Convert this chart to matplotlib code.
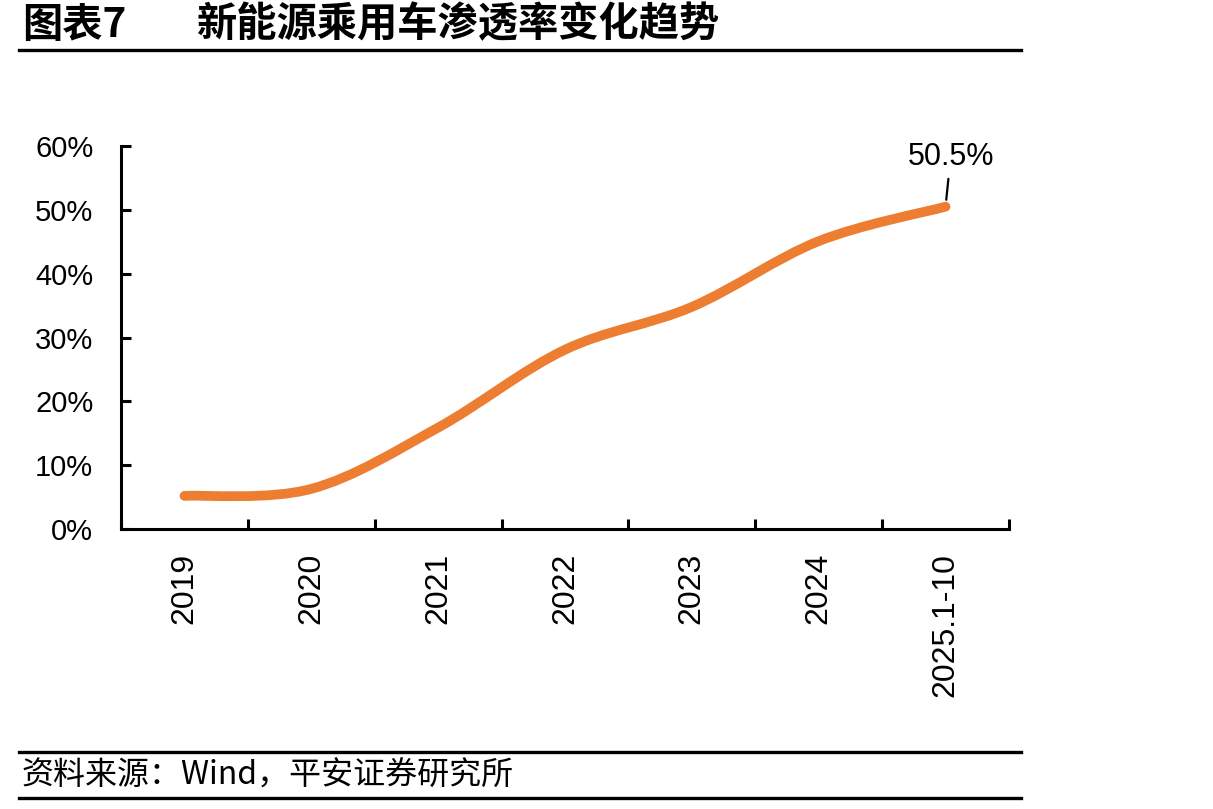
import matplotlib
matplotlib.use('Agg')
import matplotlib.pyplot as plt
from matplotlib.path import Path
from matplotlib.patches import PathPatch
from matplotlib.lines import Line2D
from matplotlib.ticker import FixedLocator, FuncFormatter

plt.rcParams['font.family'] = ['Liberation Sans', 'Noto Sans CJK SC', 'DejaVu Sans']

categories = ['2019', '2020', '2021', '2022', '2023', '2024', '2025.1-10']
penetration = [5.2, 6.3, 15.9, 28.1, 34.8, 45.1, 50.5]
y_ticks = [0, 10, 20, 30, 40, 50, 60]
last_label = '50.5%'

title_num = '图表7'
title_text = '新能源乘用车渗透率变化趋势'
source_text = '资料来源：Wind，平安证券研究所'

orange = '#ED7D31'

fig = plt.figure(figsize=(12.13, 8.09), dpi=100)
ax = fig.add_axes([0.0998, 0.346, 0.732, 0.4735])

# smooth line (Catmull-Rom -> cubic bezier), like an Excel smoothed line
xs = list(range(len(categories)))
ys = penetration
verts = [(xs[0], ys[0])]
codes = [Path.MOVETO]
n = len(xs)
for i in range(n - 1):
    p0 = (xs[max(i - 1, 0)], ys[max(i - 1, 0)])
    p1 = (xs[i], ys[i])
    p2 = (xs[i + 1], ys[i + 1])
    p3 = (xs[min(i + 2, n - 1)], ys[min(i + 2, n - 1)])
    c1 = (p1[0] + (p2[0] - p0[0]) / 6, p1[1] + (p2[1] - p0[1]) / 6)
    c2 = (p2[0] - (p3[0] - p1[0]) / 6, p2[1] - (p3[1] - p1[1]) / 6)
    verts += [c1, c2, p2]
    codes += [Path.CURVE4] * 3
ax.add_patch(PathPatch(Path(verts, codes), fill=False, edgecolor=orange,
                       lw=7, capstyle='round', joinstyle='round', zorder=3))

ax.set_xlim(-0.5, len(categories) - 0.5)
ax.set_ylim(0, 60)

for s in ['top', 'right']:
    ax.spines[s].set_visible(False)
for s in ['left', 'bottom']:
    ax.spines[s].set_linewidth(2.2)

ax.yaxis.set_major_locator(FixedLocator(y_ticks))
ax.yaxis.set_major_formatter(FuncFormatter(lambda v, p: f'{v:.0f}%'))
ax.tick_params(axis='y', direction='in', length=7, width=2.2, pad=20, labelsize=21)

ax.xaxis.set_major_locator(FixedLocator([i - 0.5 for i in range(len(categories) + 1)]))
ax.xaxis.set_major_formatter(FuncFormatter(lambda v, p: ''))
ax.xaxis.set_minor_locator(FixedLocator(xs))
ax.set_xticklabels(categories, minor=True)
ax.tick_params(axis='x', which='major', direction='in', length=7, width=2.2)
ax.tick_params(axis='x', which='minor', length=0, pad=17, labelsize=23,
               labelrotation=90)
for lab in ax.get_xticklabels(minor=True):
    lab.set_va('top')
    lab.set_ha('center')

ax.annotate(last_label, xy=(xs[-1], ys[-1]), xytext=(xs[-1] + 0.04, 58.3),
            ha='center', va='center', fontsize=22,
            arrowprops=dict(arrowstyle='-', color='black', lw=1.6,
                            shrinkA=3, shrinkB=5))

# header and footer
cjk = ['Noto Sans CJK SC', 'DejaVu Sans']
fig.text(0.018, 0.969, title_num, family=cjk, fontsize=29, fontweight='bold',
         va='center', ha='left')
fig.text(0.162, 0.969, title_text, family=cjk, fontsize=29, fontweight='bold',
         va='center', ha='left')
fig.add_artist(Line2D([0.016, 0.842], [0.938, 0.938], color='black', lw=2.4,
                      transform=fig.transFigure))
fig.add_artist(Line2D([0.016, 0.842], [0.0705, 0.0705], color='black', lw=2.4,
                      transform=fig.transFigure))
fig.add_artist(Line2D([0.016, 0.842], [0.0136, 0.0136], color='black', lw=2.4,
                      transform=fig.transFigure))
fig.text(0.018, 0.041, source_text, family=cjk, fontsize=23, style='italic',
         va='center', ha='left')

plt.savefig('out.png', dpi=100)
plt.close(fig)
